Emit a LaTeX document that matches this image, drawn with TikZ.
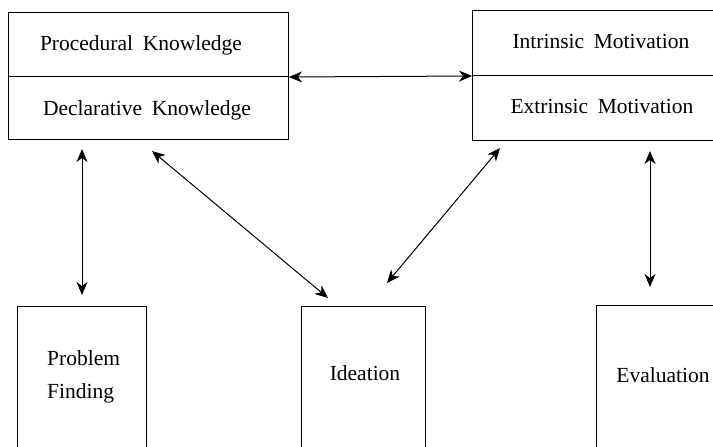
\documentclass[tikz,border=0pt]{standalone}
\usepackage{fontspec}
\setmainfont{Liberation Serif}
\usetikzlibrary{arrows.meta,calc}
\begin{document}
\begin{tikzpicture}[x=1pt,y=-1pt,
  box/.style={draw,line width=1pt,inner sep=0pt,anchor=north west},
  lbl/.style={font=\fontsize{21.5}{25}\selectfont,inner sep=0pt,anchor=base},
  arr/.style={line width=1pt,>={Stealth[length=13pt,width=11pt,inset=4pt]},<->}]
\useasboundingbox (0,0) rectangle (713,447);
\clip (0,0) rectangle (713,447);
% top-left box
\node[box,minimum width=280pt,minimum height=64pt] (pk) at (8,12) {};
\node[box,minimum width=280pt,minimum height=63pt] (dk) at (8,76) {};
% top-right box
\node[box,minimum width=260pt,minimum height=65pt] (im) at (472,10) {};
\node[box,minimum width=260pt,minimum height=65pt] (em) at (472,75) {};
% bottom boxes
\node[box,minimum width=129pt,minimum height=160pt] (pf) at (17,306) {};
\node[box,minimum width=124pt,minimum height=160pt] (id) at (301,306) {};
\node[box,minimum width=140pt,minimum height=160pt] (ev) at (596,305) {};
% labels
\node[lbl] (pkt) at (141,50) {Procedural\hspace{0.45em}Knowledge};
\node[lbl] (dkt) at (147,115) {Declarative\hspace{0.45em}Knowledge};
\node[lbl] (imt) at (601,48) {Intrinsic\hspace{0.45em}Motivation};
\node[lbl] (emt) at (602,113) {Extrinsic\hspace{0.45em}Motivation};
\node[lbl,anchor=base west] (pft1) at (47,365) {Problem};
\node[lbl,anchor=base west] (pft2) at (47,398) {Finding};
\node[lbl] (idt) at (365,380) {Ideation};
\node[lbl] (evt) at (663,382) {Evaluation};
% connectors
\draw[arr] (pk.south east) -- (im.south west);
\draw[arr] ($(dk.south west)+(74,9)$) -- ($(pf.north west)+(65,-11)$);
\draw[arr] ($(dk.south west)+(144,11)$) -- ($(id.north west)+(27,-8)$);
\draw[arr] ($(em.south west)+(28,7)$) -- ($(id.north west)+(86,-23)$);
\draw[arr] ($(em.south west)+(178,10)$) -- ($(ev.north west)+(54,-18)$);
\end{tikzpicture}
\end{document}
